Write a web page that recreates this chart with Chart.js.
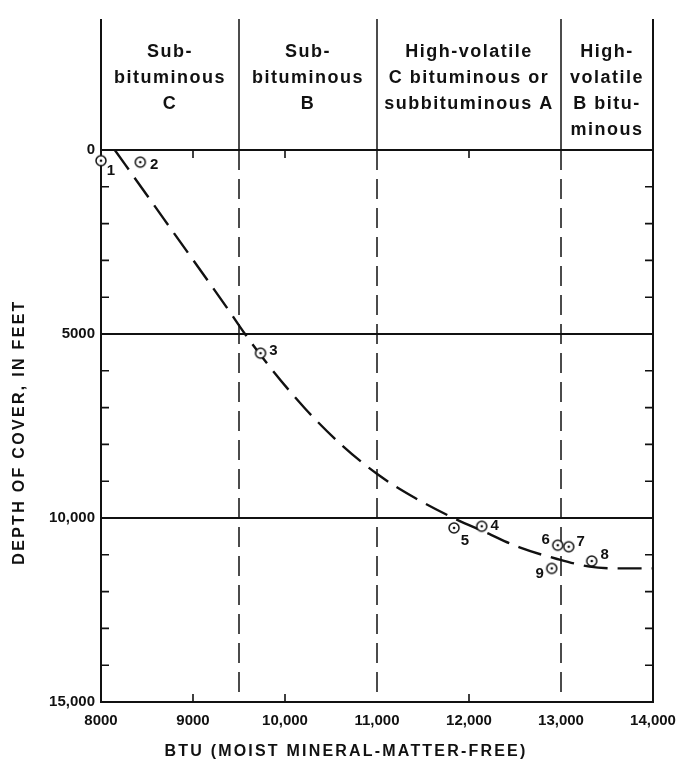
<!DOCTYPE html>
<html>
<head>
<meta charset="utf-8">
<script src="https://cdn.jsdelivr.net/npm/chart.js@4.4.1/dist/chart.umd.min.js"></script>
<style>
  body { margin: 0; background: #fff; }
</style>
</head>
<body>
<canvas id="coalRank" width="683" height="775"></canvas>
<script>
// numbered samples: BTU and depth of cover (feet)
var sampleBtu   = [8000, 8427, 9734, 12138, 11837, 12964, 13084, 13334, 12899];
var sampleDepth = [290, 330, 5520, 10225, 10270, 10740, 10780, 11170, 11370];
var sampleNames = ['1', '2', '3', '4', '5', '6', '7', '8', '9'];

// dashed trend curve
var curveBtu   = [8150, 8500, 8970, 9370, 9565, 9840, 10220, 10600, 11010, 11410, 11830, 12190, 12550, 12940, 13310, 13650, 14000];
var curveDepth = [0, 1230, 2880, 4290, 5000, 5910, 7030, 7980, 8820, 9450, 10000, 10400, 10800, 11100, 11320, 11370, 11370];

// rank boundaries and names
var rankEdges = [8000, 9500, 11000, 13000, 14000];
var rankNames = [
	['Sub-', 'bituminous', 'C'],
	['Sub-', 'bituminous', 'B'],
	['High-volatile', 'C bituminous or', 'subbituminous A'],
	['High-', 'volatile', 'B bitu-', 'minous']
];

// axis ticks
var xTickValues = [8000, 9000, 10000, 11000, 12000, 13000, 14000];
var xTickLabels = ['8000', '9000', '10,000', '11,000', '12,000', '13,000', '14,000'];
var yTickValues = [0, 5000, 10000, 15000];
var yTickLabels = ['0', '5000', '10,000', '15,000'];
var xTitle = 'BTU (MOIST MINERAL-MATTER-FREE)';
var yTitle = 'DEPTH OF COVER, IN FEET';

var FONT = '"Liberation Sans", Arial, sans-serif';

// circle-with-dot marker
var marker = document.createElement('canvas');
marker.width = 14; marker.height = 14;
(function(){
	var c = marker.getContext('2d');
	c.fillStyle = '#fff';
	c.strokeStyle = '#111';
	c.lineWidth = 1.5;
	c.beginPath(); c.arc(7, 7, 5, 0, Math.PI * 2); c.fill(); c.stroke();
	c.fillStyle = '#111';
	c.beginPath(); c.arc(7, 7, 1.3, 0, Math.PI * 2); c.fill();
})();

var samples = sampleBtu.map(function(b, i){ return {x: b, y: sampleDepth[i]}; });
var curve = curveBtu.map(function(b, i){ return {x: b, y: curveDepth[i]}; });

// label offsets next to each marker
var labelOffsets = [[10, 10], [14, 3], [13, -2], [13, 0], [11, 13], [-12, -5], [12, -5], [13, -6], [-12, 5]];

var frame = {
	id: 'frame',
	beforeDatasetsDraw: function(chart) {
		var ctx = chart.ctx, a = chart.chartArea, xs = chart.scales.x, ys = chart.scales.y;
		var last = rankEdges.length - 1;
		ctx.save();
		ctx.strokeStyle = '#111';

		// dashed rank dividers inside plot
		ctx.lineWidth = 1.5;
		ctx.setLineDash([20, 9]);
		for (var i = 1; i < last; i++) {
			var px = xs.getPixelForValue(rankEdges[i]);
			ctx.beginPath(); ctx.moveTo(px, a.top); ctx.lineTo(px, a.bottom); ctx.stroke();
		}
		ctx.setLineDash([]);

		// solid lines in header, frame sides
		for (var i = 0; i <= last; i++) {
			var px = xs.getPixelForValue(rankEdges[i]);
			var edge = (i === 0 || i === last);
			ctx.lineWidth = edge ? 2 : 1.5;
			ctx.beginPath(); ctx.moveTo(px, 19); ctx.lineTo(px, edge ? a.bottom : a.top); ctx.stroke();
		}

		// minor ticks on the sides
		ctx.lineWidth = 1.6;
		for (var v = 1000; v < 15000; v += 1000) {
			if (v % 5000 === 0) continue;
			var py = ys.getPixelForValue(v);
			ctx.beginPath();
			ctx.moveTo(a.left, py); ctx.lineTo(a.left + 8, py);
			ctx.moveTo(a.right, py); ctx.lineTo(a.right - 8, py);
			ctx.stroke();
		}
		// minor ticks top and bottom
		xTickValues.forEach(function(v){
			if (rankEdges.indexOf(v) >= 0) return;
			var px = xs.getPixelForValue(v);
			ctx.beginPath();
			ctx.moveTo(px, a.top); ctx.lineTo(px, a.top + 8);
			ctx.moveTo(px, a.bottom); ctx.lineTo(px, a.bottom - 8);
			ctx.stroke();
		});
		ctx.restore();
	},
	afterDraw: function(chart) {
		var ctx = chart.ctx, a = chart.chartArea, xs = chart.scales.x;
		ctx.save();
		ctx.fillStyle = '#111';
		ctx.textAlign = 'center';
		ctx.textBaseline = 'middle';

		// rank headings
		ctx.font = 'bold 18px ' + FONT;
		ctx.letterSpacing = '1.5px';
		rankNames.forEach(function(lines, i){
			var cx = (xs.getPixelForValue(rankEdges[i]) + xs.getPixelForValue(rankEdges[i + 1])) / 2;
			lines.forEach(function(t, j){
				ctx.fillText(t, cx, a.top - 98 + j * 26);
			});
		});
		ctx.letterSpacing = '0px';

		// sample numbers
		ctx.font = 'bold 15px ' + FONT;
		var pts = chart.getDatasetMeta(0).data;
		pts.forEach(function(p, i){
			ctx.fillText(sampleNames[i], p.x + labelOffsets[i][0], p.y + labelOffsets[i][1]);
		});

		// axis titles
		ctx.font = 'bold 16px ' + FONT;
		ctx.letterSpacing = '2.2px';
		ctx.fillText(xTitle, 346, 752);
		ctx.translate(20, 432);
		ctx.rotate(-Math.PI / 2);
		ctx.letterSpacing = '2.3px';
		ctx.fillText(yTitle, 0, 0);
		ctx.restore();
	}
};

let ctx = document.getElementById('coalRank');
let chart = new Chart(ctx, {
	type: 'scatter',
	data: {
		datasets: [{
			label: 'Samples',
			data: samples,
			pointStyle: marker,
			pointRadius: 6,
			showLine: false,
			clip: false
		}, {
			label: 'Trend',
			data: curve,
			showLine: true,
			borderColor: '#111',
			borderWidth: 2.4,
			borderDash: [24, 10],
			pointRadius: 0,
			cubicInterpolationMode: 'monotone'
		}]
	},
	options: {
		responsive: false,
		animation: false,
		layout: { padding: { top: 150, right: 30, left: 0, bottom: 0 } },
		plugins: { legend: { display: false }, tooltip: { enabled: false } },
		scales: {
			x: {
				type: 'linear',
				min: 8000,
				max: 14000,
				afterFit: function(s){ s.height = 73; s.paddingRight = 0; },
				border: { display: true, color: '#111', width: 2 },
				grid: { drawOnChartArea: false, drawTicks: false },
				ticks: {
					stepSize: 1000,
					padding: 10,
					color: '#111',
					font: { family: FONT, size: 15, weight: 'bold' },
					callback: function(v){ var k = xTickValues.indexOf(v); return k >= 0 ? xTickLabels[k] : ''; }
				}
			},
			y: {
				type: 'linear',
				reverse: true,
				min: 0,
				max: 15000,
				afterFit: function(s){ s.width = 101; },
				border: { display: true, color: '#111', width: 2 },
				grid: {
					drawTicks: false,
					lineWidth: 2,
					color: function(c){ return c.tick && c.tick.value % 5000 === 0 ? '#111' : 'rgba(0,0,0,0)'; }
				},
				ticks: {
					stepSize: 1000,
					autoSkip: false,
					padding: 6,
					color: '#111',
					font: { family: FONT, size: 15, weight: 'bold' },
					callback: function(v){ var k = yTickValues.indexOf(v); return k >= 0 ? yTickLabels[k] : ''; }
				}
			}
		}
	},
	plugins: [frame]
});
</script>
</body>
</html>
